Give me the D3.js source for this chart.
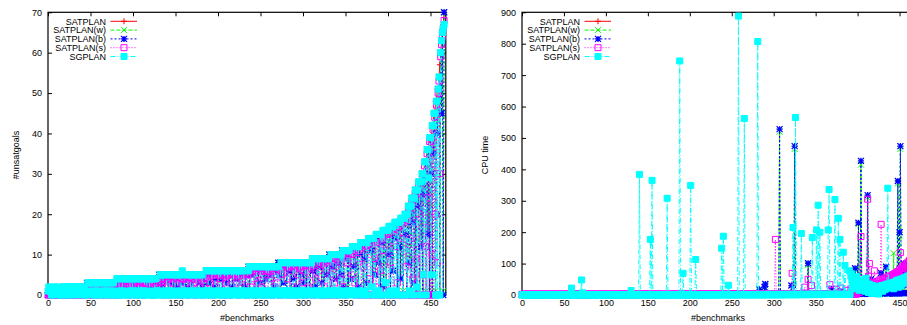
<!DOCTYPE html>
<html>
<head>
<meta charset="utf-8">
<script src="https://cdn.jsdelivr.net/npm/d3@7"></script>
<style>
  body { margin: 0; background: #fff; }
  svg { display: block; }
  text { font-family: "Liberation Sans", Arial, Helvetica, sans-serif; font-size: 9px; fill: #000; }
</style>
</head>
<body>
<svg id="chart" width="907" height="325"></svg>
<script>
// ---- data ----
const planners = ["SATPLAN", "SATPLAN(w)", "SATPLAN(b)", "SATPLAN(s)", "SGPLAN"];
const benchTicks = [0, 50, 100, 150, 200, 250, 300, 350, 400, 450];
const unsatTicks = [0, 10, 20, 30, 40, 50, 60, 70];
const cpuTicks = [0, 100, 200, 300, 400, 500, 600, 700, 800, 900];

// #unsatgoals, SATPLAN is the sort key: [value, number of benchmarks]
const unsatSatplanRuns = [[1,13],[2,33],[3,35],[4,50],[5,55],[6,50],[7,35],[8,40],[9,20],[10,15],
  [11,12],[12,10],[13,10],[14,9],[15,8],[16,7],[17,7],[18,6],[19,5],[20,4],[22,4],[24,4],[26,4],[28,4],
  [30,3],[33,3],[36,3],[39,3],[42,2],[45,2],[48,2],[51,2],[54,1],[57,1],[60,1],[63,1],[65,1],[67,1],[70,1]];

const unsatW = `
0 1 1 0 1 1 0 1 1 0  1 1 0 1 2 1 1 0 2 1  1 2 1 1 1 2 1 0 1 2  1 0 2 1 1 2 1 1 2 1  2 1 0 2 1 2 3 1 2 3
2 3 1 2 0 3 2 1 3 2  3 2 1 3 2 3 1 3 2 0  3 3 1 2 3 0 3 2 3 3  2 4 3 4 1 3 4 1 4 3  4 2 4 3 0 4 3 4 2 4
4 3 0 4 4 2 4 3 4 1  3 4 4 1 4 3 0 4 4 2  4 3 4 2 4 1 4 4 3 4  1 5 4 5 2 5 4 0 5 5  4 5 2 5 5 3 5 0 5 4
5 2 5 4 5 1 5 5 3 5  5 4 0 5 5 2 5 3 5 5  1 5 4 5 5 1 5 5 3 5  5 2 5 4 5 0 6 5 6 3  6 5 1 6 6 2 6 4 6 6
1 6 6 4 6 0 6 5 6 6  3 6 6 1 6 5 6 2 6 6  6 4 6 6 1 6 5 6 0 6  6 6 2 6 5 6 7 1 7 7  5 7 7 1 7 6 7 0 7 7
3 7 6 7 7 1 7 4 7 7  7 5 7 0 7 7 2 7 6 7  7 8 5 8 1 8 8 3 8 7  8 1 8 8 6 8 0 8 8 4  8 8 2 8 7 8 1 8 5 8
8 3 8 8 0 8 7 8 1 8  8 9 6 9 2 9 9 1 9 7  9 9 3 9 0 9 8 9 5 9  9 10 1 10 7 10 1 10 10 4  10 8 10 0 10 5 11 11 2 11
11 9 11 1 11 11 4 11 12 12  7 12 0 12 12 2 12 10 13 13  13 1 13 9 13 3 13 13 14 14  11 14 0 14 14 5 14 15 15 8
15 1 15 13 15 2 16 16 0 16  16 10 17 1 17 17 6 17 14 18  18 0 18 12 18 4 19 19 1 19  20 15 0 20 22 8 22 1 24 18
24 3 26 0 26 22 28 1 28 12  30 0 30 25 33 1 36 15 36 0  39 30 0 42 35 45 1 48 40 51  54 0 60 45 65 1 70`;

const unsatB = `
0 1 1 0 1 1 0 1 1 0  1 1 0 1 2 1 1 0 2 1  1 2 0 1 1 2 1 0 1 2  1 0 2 1 1 2 0 1 2 1  2 1 0 2 1 2 3 0 2 3
2 3 1 2 0 3 2 1 3 2  3 2 0 3 2 3 1 3 2 0  3 3 1 2 3 0 3 2 3 3  2 4 3 4 0 3 4 1 4 3  4 2 4 3 0 4 3 4 1 4
4 3 0 4 4 2 4 3 4 0  3 4 4 1 4 3 0 4 4 2  4 3 4 2 4 0 4 4 3 4  1 5 4 5 2 5 4 0 5 5  4 5 1 5 5 3 5 0 5 4
5 2 5 4 5 0 5 5 3 5  5 4 0 5 5 2 5 3 5 5  0 5 4 5 5 1 5 5 3 5  5 2 5 4 5 0 6 5 6 3  6 5 0 6 6 2 6 4 6 6
1 6 6 4 6 0 6 5 6 6  3 6 6 0 6 5 6 2 6 6  6 4 6 6 1 6 5 6 0 6  6 6 2 6 5 6 7 0 7 7  5 7 7 1 7 6 7 0 7 7
3 7 6 7 7 0 7 4 7 7  7 5 7 0 7 7 2 7 6 7  7 8 5 8 0 8 8 3 8 7  8 1 8 8 6 8 0 8 8 4  8 8 2 8 7 8 0 8 5 8
8 3 8 8 0 8 7 8 1 8  8 9 6 9 2 9 9 0 9 7  9 9 3 9 0 9 8 9 5 9  9 10 1 10 7 10 0 10 10 4  10 8 10 0 10 5 11 11 2 11
11 9 11 0 11 11 4 11 12 12  7 12 0 12 12 2 12 10 13 13  13 0 13 9 13 3 13 13 14 14  11 14 0 14 14 5 14 15 15 8
15 0 15 13 15 2 16 16 0 16  16 10 17 0 17 17 6 17 14 18  18 0 18 12 18 4 19 19 0 19  20 15 0 20 22 8 22 0 24 18
24 3 26 0 26 22 28 0 28 12  30 0 30 25 33 0 36 15 36 0  39 30 0 42 35 45 0 48 40 51  54 0 60 45 65 0 70`;

const unsatS = `
0 1 0 0 1 0 0 1 0 0  1 0 0 1 1 0 0 1 0 1  1 0 1 0 1 1 0 0 1 1  0 1 1 0 1 0 1 1 0 1  1 0 2 1 0 1 2 1 0 2
2 1 0 2 2 1 0 2 1 2  2 0 1 2 2 1 2 0 2 1  3 2 0 2 1 3 2 2 0 2  3 2 3 0 3 1 3 3 2 3  2 3 3 1 3 0 3 2 3 3
3 1 3 3 0 3 2 3 3 1  3 3 0 3 2 3 3 1 3 3  2 3 3 0 3 3 1 3 2 3  4 3 4 1 4 4 0 4 2 4  4 2 4 4 0 4 3 4 4 1
4 4 2 4 4 0 4 3 4 4  1 4 4 3 4 0 4 4 2 4  4 3 4 0 4 4 1 4 4 2  4 4 0 4 3 4 5 5 1 5  5 3 5 5 0 5 4 5 2 5
5 5 1 5 4 5 0 5 5 3  5 2 5 5 0 5 4 5 5 1  5 5 3 5 0 5 5 2 5 4  5 1 5 5 0 5 6 6 2 6  6 6 4 6 0 6 6 3 6 5
6 2 6 6 0 6 5 6 6 1  6 6 4 6 0 6 6 2 6 6  3 7 7 0 7 5 7 7 1 7  7 4 7 7 0 7 6 7 2 7  7 7 0 7 5 7 7 1 7 3
7 6 7 0 7 7 2 7 5 7  7 8 0 8 8 4 8 1 8 8  6 8 0 8 8 2 8 7 8 0  8 9 5 9 0 9 9 3 9 7  9 0 9 9 4 9 10 2 10 10
0 10 8 10 10 1 10 5 11 11  11 3 11 0 11 9 11 11 12 0  12 7 12 1 12 12 0 12 13 4  13 13 0 13 9 13 2 13 14 0
14 6 14 0 14 11 15 15 1 15  15 0 16 8 16 16 0 16 12 17  17 3 17 0 17 14 18 18 0 18  19 7 19 0 21 21 14 0 23 4
23 0 25 9 25 0 27 20 0 27  5 29 0 32 12 0 35 0 24 38  0 38 10 41 0 44 20 47 8 50  53 30 59 62 64 66 68`;

const unsatSG = `
1 2 1 1 0 1 0 2 1 1  2 1 1 0 1 1 0 0 2 2  2 2 1 0 0 1 2 2 2 1  0 1 2 2 2 2 1 0 1 1  2 2 2 1 0 0 1 3 3 3
3 3 1 0 0 1 3 3 3 0  1 0 3 3 3 1 0 1 3 3  3 1 0 0 1 3 3 3 1 0  0 4 4 4 1 0 0 1 4 4  4 1 0 0 4 4 4 1 0 1
4 4 4 1 0 1 0 4 4 4  1 0 0 1 4 4 4 0 1 0  4 4 4 0 1 0 4 4 1 0  1 0 5 5 5 5 1 0 0 1  5 5 5 1 0 1 0 5 5 5
0 1 0 5 5 5 1 0 6 5  5 1 0 1 0 5 5 5 1 0  1 5 5 5 5 0 1 0 1 5  5 5 0 1 0 1 6 6 6 1  0 1 0 6 6 6 6 1 0 1
0 6 6 6 1 0 1 0 6 6  6 6 1 0 1 0 6 6 6 1  0 1 6 6 6 0 1 0 6 6  6 1 0 1 0 6 6 7 7 1  0 1 0 7 7 7 1 0 1 0
7 7 7 1 0 1 0 7 7 7  1 0 1 0 7 7 7 1 0 1  7 7 1 0 8 8 8 1 0 1  0 1 8 8 8 1 0 1 0 8  8 8 1 0 1 0 8 8 8 1
0 1 0 8 8 8 1 0 8 8  8 9 9 1 0 1 0 9 9 9  1 0 1 0 9 9 9 1 0 9  9 1 0 10 10 10 1 0 1 10  10 10 1 0 10 10 0 11 11 1
0 1 11 11 11 1 0 1 12 12  12 1 0 12 12 12 0 1 13 13  13 13 1 0 13 13 0 14 14 14  2 14 14 14 0 1 15 15 15 1
0 15 15 0 16 16 16 3 0 16  16 17 0 1 17 17 17 0 18 18  1 18 18 0 18 19 19 19 0 19  20 20 0 20 22 22 1 22 24 24
0 24 26 26 2 26 28 28 0 28  30 30 5 33 33 0 36 36 29 39  39 5 42 42 45 45 0 48 0 51  54 0 60 63 65 66 67`;

// CPU time (s): small per-benchmark times as one digit each, then the larger ones as [benchmark, time]
const cpuSatplanBase = `
0100100010 0010010001 1001000100 0100100010 0010010001 1000100100 0100010010 0010001001 1001000100 0100100010
0010010001 1001001000 0100100100 0010010010 1001001001 0100100100 1010010010 0101001001 1010100100 0101010010
1010101001 0101010101 1010101010 1101010101 1110101010 1111010101 1111101010 1211111010 1121111101 1212111111
2121211111 2122121211 2221212121 2222221212 2322222222 3232323232 2323232323 3332323233 3333233333 3433333343
4344434443 4454445445 5555555555 5555555555 5555555555 5555555555 5555555`;
const cpuWBase = `
1010010100 0100101001 1001010010 0101001010 1010100101 0100101010 1001010101 0101010010 1010101001 0101010101
1010101010 1101010101 1010110101 0101101010 1101011010 1011010101 1101101011 1011011010 1101101101 1110110110
1101110111 1110111011 1111011101 1111101111 1211111110 1121111211 2112121112 1212121211 2121212121 2212121212
2221212122 2222122212 2322222222 2232323222 3232323232 3323233323 3332333332 3433433343 4343434434 4444444444
4545454545 5454545454 5555555555 5656565656 6565656565 6666666666 6666666`;
const cpuBBase = `
0101001010 1010010100 0100101001 1010010100 0101010010 1010100101 0101010100 1010101010 0101010101 1010101010
0101101010 1010110101 0101101011 1010110110 1101101011 0110110101 1011011010 1101101101 1011110110 1101111011
1110111101 1111011110 1111101111 1111111011 1111211111 2111121111 1211211211 2121121212 1212212121 2121221212
2212222122 2222212222 2223222322 3222323222 2323232323 3233323332 3333333333 3343334333 4334434344 4444444444
4545454545 5454545454 5555555555 5656565656 6565656565 6666666666 6666666`;
const cpuSBase = `
2132312321 3213231232 1323123213 2312321323 1232132312 3213213231 2312321323 1323123213 2132312321 3213231232
2313213231 1232312323 3123231321 2321323123 1323213232 3231232313 2132323121 3213213232 2323132321 3132321323
2323132323 3232323132 2323232323 3232233232 2332323232 3232332323 2323323232 3233232332 2332323323 3323233232
3332323333 3233333233 3333323333 3333333333 3333333333 3333333333 3333333333 3333333333 3333333333 3333333333
3333333333 3333333333 3333333333 3333333333 3333333333 3333333333 3333333`;
const cpuSGBase = `
0101010101 1010101010 0101101010 1010010101 0110101010 1010110101 0101011010 1010101101 0110101010 1101010101
1010101011 0101101010 1011010101 0101101101 1010110101 1101011010 1011010110 1101101011 1011011010 1101101101
1110110110 1101110111 1110111011 1111011101 1111101111 1111111011 1211111111 1121111121 1211211111 2112112111
1211211211 2121121212 1212212121 2121221212 2212212222 2222122221 2222222222 2222222222 2222222222 2222222222
2222222222 2222222222 2222222222 2222222222 2222222222 2222222222 2222222`;

const cpuSatplanLarge = [[405,5],[406,5],[407,6],[408,6],[409,7],[410,7],[411,8],[412,8],[413,9],[414,9],
  [415,10],[416,11],[417,11],[418,12],[419,13],[420,14],[421,15],[422,16],[423,17],[424,18],[425,19],[426,20],
  [427,22],[428,23],[429,24],[430,25],[431,26],[432,27],[433,28],[434,29],[435,30],[436,31],[437,32],[438,33],
  [439,34],[440,35],[441,36],[442,37],[443,39],[444,41],[445,43],[446,45],[447,48],[448,51],[449,54],[450,58],
  [451,63],[452,68],[453,72],[454,76],[455,80],[456,85],[457,90],[458,95],[459,100],[460,106],[461,112],
  [462,118],[463,124],[464,130],[465,136],[466,142]];
const cpuWLarge = [[283,15],[290,30],[307,520],[325,465],[341,95],[397,80],[401,225],[404,415],[412,310],
  [420,25],[428,65],[434,85],[438,30],[443,133],[446,55],[448,355],[450,190],[451,465],[455,95],[460,60]];
const cpuBLarge = [[283,18],[289,25],[290,35],[307,528],[321,30],[325,474],[341,101],[369,20],[380,12],
  [397,85],[401,230],[404,427],[409,40],[412,318],[416,50],[421,30],[428,70],[434,90],[440,35],[446,60],
  [448,363],[450,200],[451,474],[453,80],[455,100],[458,70],[462,90]];
const cpuSLarge = [[302,177],[322,69],[337,25],[341,50],[345,30],[367,33],[375,18],[380,22],[386,15],[392,20],
  [397,28],[400,12],[401,20],[402,8],[403,35],[404,186],[405,40],[406,15],[407,22],[408,30],[409,18],[410,25],
  [411,45],[412,305],[413,60],[414,100],[415,28],[416,35],[417,20],[418,40],[419,32],[420,77],[421,38],[422,25],
  [423,42],[424,30],[425,45],[426,36],[427,50],[428,225],[429,40],[430,48],[431,35],[432,52],[433,44],[434,55],
  [435,38],[436,58],[437,47],[438,60],[439,50],[440,62],[441,55],[442,65],[443,58],[444,68],[445,62],[446,72],
  [447,66],[448,75],[449,70],[450,80],[451,135],[452,85],[453,78],[454,90],[455,84],[456,95],[457,88],[458,100],
  [459,94],[460,105],[461,98],[462,110],[463,104],[464,115],[465,108],[466,120]];
const cpuSGLarge = [[59,22],[71,48],[72,7],[130,14],[140,384],[153,177],[155,365],[173,308],[188,745],[192,69],
  [201,349],[207,113],[238,149],[240,187],[246,31],[258,888],[265,562],[281,807],[323,215],[326,565],[333,196],
  [346,183],[351,207],[353,286],[355,200],[365,207],[366,336],[373,304],[377,244],[379,177],[383,136],[385,94],
  [390,77],[392,60],[393,67],[394,30],[395,45],[396,20],[397,50],[398,35],[399,58],[400,25],[401,40],[402,15],
  [403,48],[404,30],[405,35],[406,41],[407,20],[408,38],[409,12],[410,53],[411,30],[412,25],[413,8],[414,35],
  [415,20],[416,28],[417,5],[418,30],[419,22],[420,18],[421,25],[422,10],[423,28],[424,20],[425,3],[426,26],
  [427,15],[428,22],[429,30],[430,12],[431,25],[432,32],[433,18],[434,28],[435,35],[436,340],[437,30],[438,22],
  [439,38],[440,25],[441,35],[442,40],[443,20],[444,41],[445,30],[446,45],[447,35],[448,48],[449,25],[450,42],
  [451,50],[452,30],[453,45],[454,53],[455,40],[456,55],[457,38],[458,50],[459,60],[460,45],[461,58],[462,62],
  [463,50],[464,65],[465,55],[466,70]];

// ---- helpers ----
const N = 467;
function expandRuns(runs) {
  const out = [];
  runs.forEach(([v, c]) => { for (let k = 0; k < c; k++) out.push(v); });
  return out;
}
const parseList = s => s.trim().split(/\s+/).map(Number).slice(0, N);
const parseDigits = s => s.replace(/\s+/g, "").split("").map(Number).slice(0, N);
function withLarge(base, large) {
  const a = base.slice();
  large.forEach(([i, v]) => { a[i] = v; });
  return a;
}

const unsatSeries = [expandRuns(unsatSatplanRuns), parseList(unsatW), parseList(unsatB), parseList(unsatS), parseList(unsatSG)];
const cpuSeries = [
  withLarge(parseDigits(cpuSatplanBase), cpuSatplanLarge),
  withLarge(parseDigits(cpuWBase), cpuWLarge),
  withLarge(parseDigits(cpuBBase), cpuBLarge),
  withLarge(parseDigits(cpuSBase), cpuSLarge),
  withLarge(parseDigits(cpuSGBase), cpuSGLarge)
];

// gnuplot-like styles, one per planner
const styles = [
  { color: "#ff0000", dash: null,      marker: "plus" },
  { color: "#00ff00", dash: "4,2",     marker: "cross" },
  { color: "#0000ff", dash: "2,2",     marker: "star" },
  { color: "#ff00ff", dash: "1,2",     marker: "box" },
  { color: "#00ffff", dash: "5,2,1,2", marker: "boxfill" }
];

function markerPath(type, cx, cy) {
  const r = 3, b = 3;
  const plus = `M${cx - r},${cy}H${cx + r}M${cx},${cy - r}V${cy + r}`;
  const cross = `M${cx - r},${cy - r}L${cx + r},${cy + r}M${cx - r},${cy + r}L${cx + r},${cy - r}`;
  const box = `M${cx - b},${cy - b}h${2 * b}v${2 * b}h${-2 * b}Z`;
  if (type === "plus") return plus;
  if (type === "cross") return cross;
  if (type === "star") return plus + cross;
  return box;
}

const svg = d3.select("#chart");

function drawPanel(cfg) {
  const x = d3.scaleLinear().domain([0, 468]).range([cfg.left, cfg.left + 468 * cfg.pxPerBench]);
  const y = d3.scaleLinear().domain([0, cfg.ymax]).range([295, 12.3]);
  const g = svg.append("g");
  const x0 = x(0), x1 = x(468), yb = y(0), yt = y(cfg.ymax);

  // axes (gnuplot: ticks inward on all four sides)
  g.append("g").attr("transform", `translate(0,${yb})`)
    .call(d3.axisBottom(x).tickValues(benchTicks).tickSizeInner(-4).tickSizeOuter(0).tickPadding(5))
    .call(a => a.select(".domain").remove());
  g.append("g").attr("transform", `translate(0,${yt})`)
    .call(d3.axisTop(x).tickValues(benchTicks).tickSizeInner(-4).tickSizeOuter(0).tickFormat(""))
    .call(a => a.select(".domain").remove());
  g.append("g").attr("transform", `translate(${x0},0)`)
    .call(d3.axisLeft(y).tickValues(cfg.yticks).tickSizeInner(-4).tickSizeOuter(0).tickPadding(6))
    .call(a => a.select(".domain").remove());
  g.append("g").attr("transform", `translate(${x1},0)`)
    .call(d3.axisRight(y).tickValues(cfg.yticks).tickSizeInner(-4).tickSizeOuter(0).tickFormat(""))
    .call(a => a.select(".domain").remove());
  g.selectAll(".tick text").attr("font-size", 9).attr("font-family", '"Liberation Sans", Arial, sans-serif').attr("fill", "#000");
  g.selectAll(".tick line").attr("stroke", "#000");

  g.append("rect").attr("x", x0).attr("y", yt).attr("width", x1 - x0).attr("height", yb - yt)
    .attr("fill", "none").attr("stroke", "#000").attr("stroke-width", 1.2);

  // series: line then points, in plot order
  const line = d3.line().x((d, i) => x(i)).y(d => y(d));
  cfg.series.forEach((vals, k) => {
    const st = styles[k];
    g.append("path").attr("d", line(vals)).attr("fill", "none")
      .attr("stroke", st.color).attr("stroke-width", 1)
      .attr("stroke-dasharray", st.dash);
    const pd = vals.map((v, i) => markerPath(st.marker, x(i), y(v))).join("");
    g.append("path").attr("d", pd)
      .attr("fill", st.marker === "boxfill" ? st.color : "none")
      .attr("stroke", st.color)
      .attr("stroke-width", st.marker === "star" ? 1.3 : 1);
  });

  // legend
  planners.forEach((name, k) => {
    const st = styles[k];
    const ly = 21.3 + k * 8.8;
    g.append("text").attr("x", cfg.legendX).attr("y", ly + 3.2).attr("text-anchor", "end").text(name);
    g.append("line").attr("x1", cfg.legendX + 4.5).attr("x2", cfg.legendX + 31).attr("y1", ly).attr("y2", ly)
      .attr("stroke", st.color).attr("stroke-width", 1).attr("stroke-dasharray", st.dash);
    g.append("path").attr("d", markerPath(st.marker, cfg.legendX + 18, ly))
      .attr("fill", st.marker === "boxfill" ? st.color : "none")
      .attr("stroke", st.color).attr("stroke-width", st.marker === "star" ? 1.3 : 1);
  });

  // titles
  g.append("text").attr("x", cfg.xTitleX).attr("y", 321)
    .attr("text-anchor", "middle").text("#benchmarks");
  g.append("text").attr("transform", `translate(${cfg.yTitleX},155) rotate(-90)`)
    .attr("text-anchor", "middle").text(cfg.yTitle);
}

drawPanel({
  left: 48, pxPerBench: 0.85, ymax: 70, yticks: unsatTicks, series: unsatSeries,
  legendX: 106, xTitleX: 247, yTitleX: 19, yTitle: "#unsatgoals"
});
drawPanel({
  left: 522, pxPerBench: 0.839, ymax: 900, yticks: cpuTicks, series: cpuSeries,
  legendX: 580, xTitleX: 718, yTitleX: 488, yTitle: "CPU time"
});
</script>
</body>
</html>
